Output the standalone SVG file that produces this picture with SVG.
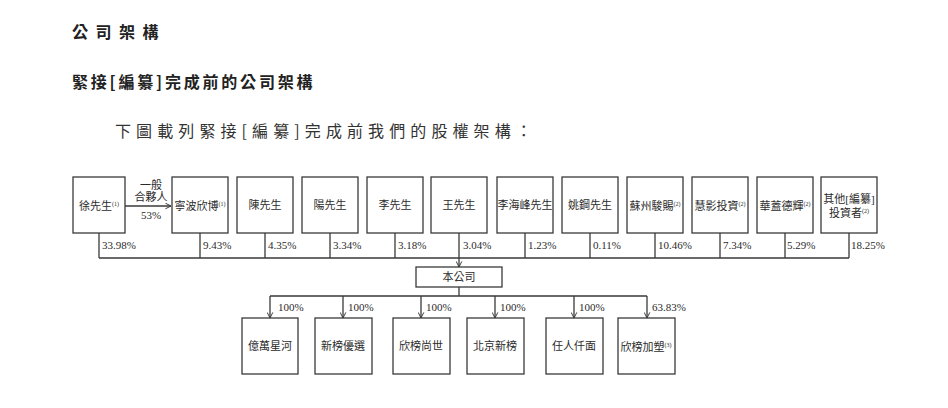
<svg xmlns="http://www.w3.org/2000/svg" width="948" height="408" viewBox="0 0 948 408">
<defs>
<style>
.bg{fill:#fff}
.box{fill:#fff;stroke:#3a3a3a;stroke-width:1.3}
.ln{fill:none;stroke:#3a3a3a;stroke-width:1.3}
.t{font-family:"Liberation Serif","Noto Sans CJK TC",serif;font-size:11px;fill:#2b2b2b}
.c{text-anchor:middle}
.sup{font-size:6px}
.pct{font-family:"Liberation Serif","Noto Sans CJK TC",serif;font-size:11px;fill:#2b2b2b}
.h1{font-family:"Noto Sans CJK TC",sans-serif;font-size:16px;font-weight:bold;fill:#222;letter-spacing:7.5px}
.h2{font-family:"Noto Sans CJK TC",sans-serif;font-size:16px;font-weight:bold;fill:#222;letter-spacing:2.8px}
.h3{font-family:"Noto Sans CJK TC",sans-serif;font-size:16px;fill:#333;letter-spacing:5.1px}
</style>
<marker id="arr" viewBox="0 0 10 10" refX="9" refY="5" markerWidth="7" markerHeight="7" orient="auto" markerUnits="userSpaceOnUse">
<path d="M1,1 L9,5 L1,9" fill="none" stroke="#3a3a3a" stroke-width="1.4"/>
</marker>
</defs>
<rect class="bg" width="948" height="408"/>
<text class="h1" x="72" y="38">公司架構</text>
<text class="h2" x="72" y="88">緊接[編纂]完成前的公司架構</text>
<text class="h3" x="115" y="137">下圖載列緊接[編纂]完成前我們的股權架構：</text>

<g id="connectors">
<path class="ln" d="M99,233 V258 M200,233 V258 M265,233 V258 M330,233 V258 M395,233 V258 M525,233 V258 M590,233 V258 M655,233 V258 M720,233 V258 M785,233 V258 M849,233 V258 M99,258 H849"/>
<path class="ln" d="M459,233 V267" marker-end="url(#arr)"/>
<path class="ln" d="M125,206 H171" marker-end="url(#arr)"/>
<path class="ln" d="M459,287 V296 M270,296 H647"/>
<path class="ln" d="M270,296 V318" marker-end="url(#arr)"/>
<path class="ln" d="M343,296 V318" marker-end="url(#arr)"/>
<path class="ln" d="M421,296 V318" marker-end="url(#arr)"/>
<path class="ln" d="M495,296 V318" marker-end="url(#arr)"/>
<path class="ln" d="M574,296 V318" marker-end="url(#arr)"/>
<path class="ln" d="M647,296 V318" marker-end="url(#arr)"/>
<text class="t c" x="151" y="189">一般</text>
<text class="t c" x="151" y="201">合夥人</text>
<text class="t c" x="151" y="219">53%</text>
<text class="pct" x="102" y="249">33.98%</text>
<text class="pct" x="203" y="249">9.43%</text>
<text class="pct" x="268" y="249">4.35%</text>
<text class="pct" x="333" y="249">3.34%</text>
<text class="pct" x="398" y="249">3.18%</text>
<text class="pct" x="463" y="249">3.04%</text>
<text class="pct" x="528" y="249">1.23%</text>
<text class="pct" x="593" y="249">0.11%</text>
<text class="pct" x="658" y="249">10.46%</text>
<text class="pct" x="723" y="249">7.34%</text>
<text class="pct" x="787" y="249">5.29%</text>
<text class="pct" x="851" y="249">18.25%</text>
<text class="pct" x="278" y="311">100%</text>
<text class="pct" x="348" y="311">100%</text>
<text class="pct" x="426" y="311">100%</text>
<text class="pct" x="500" y="311">100%</text>
<text class="pct" x="579" y="311">100%</text>
<text class="pct" x="652" y="311">63.83%</text>
</g>

<g id="n-xu"><rect class="box" x="73" y="177" width="52" height="56"/><text class="t c" x="99" y="210">徐先生<tspan class="sup" dy="-4">(1)</tspan></text></g>
<g id="n-ningbo"><rect class="box" x="172" y="177" width="56" height="56"/><text class="t c" x="200" y="210">寧波欣博<tspan class="sup" dy="-4">(1)</tspan></text></g>
<g id="n-chen"><rect class="box" x="237" y="177" width="56" height="56"/><text class="t c" x="265" y="209">陳先生</text></g>
<g id="n-yang"><rect class="box" x="302" y="177" width="56" height="56"/><text class="t c" x="330" y="209">陽先生</text></g>
<g id="n-li"><rect class="box" x="367" y="177" width="56" height="56"/><text class="t c" x="395" y="209">李先生</text></g>
<g id="n-wang"><rect class="box" x="431" y="177" width="56" height="56"/><text class="t c" x="459" y="209">王先生</text></g>
<g id="n-lihaifeng"><rect class="box" x="497" y="177" width="56" height="56"/><text class="t c" x="525" y="209">李海峰先生</text></g>
<g id="n-yaogang"><rect class="box" x="562" y="177" width="56" height="56"/><text class="t c" x="590" y="209">姚鋼先生</text></g>
<g id="n-suzhou"><rect class="box" x="627" y="177" width="56" height="56"/><text class="t c" x="655" y="210">蘇州駿賜<tspan class="sup" dy="-4">(2)</tspan></text></g>
<g id="n-huiying"><rect class="box" x="692" y="177" width="56" height="56"/><text class="t c" x="720" y="210">慧影投資<tspan class="sup" dy="-4">(2)</tspan></text></g>
<g id="n-huagai"><rect class="box" x="757" y="177" width="56" height="56"/><text class="t c" x="785" y="210">華蓋德輝<tspan class="sup" dy="-4">(2)</tspan></text></g>
<g id="n-other"><rect class="box" x="821" y="177" width="56" height="56"/><text class="t c" x="849" y="203">其他[編纂]</text><text class="t c" x="849" y="217">投資者<tspan class="sup" dy="-4">(2)</tspan></text></g>

<g id="n-company"><rect class="box" x="416" y="267" width="86" height="20"/><text class="t c" x="459" y="281">本公司</text></g>

<g id="n-yiwan"><rect class="box" x="242" y="318" width="56" height="56"/><text class="t c" x="270" y="350">億萬星河</text></g>
<g id="n-xinbangyouxuan"><rect class="box" x="315" y="318" width="57" height="56"/><text class="t c" x="343" y="350">新榜優選</text></g>
<g id="n-xinbangshangshi"><rect class="box" x="393" y="318" width="57" height="56"/><text class="t c" x="421" y="350">欣榜尚世</text></g>
<g id="n-beijing"><rect class="box" x="467" y="318" width="57" height="56"/><text class="t c" x="495" y="350">北京新榜</text></g>
<g id="n-renren"><rect class="box" x="546" y="318" width="57" height="56"/><text class="t c" x="574" y="350">任人仟面</text></g>
<g id="n-jiasu"><rect class="box" x="618" y="318" width="57" height="56"/><text class="t c" x="646" y="351">欣榜加塑<tspan class="sup" dy="-4">(3)</tspan></text></g>
</svg>
